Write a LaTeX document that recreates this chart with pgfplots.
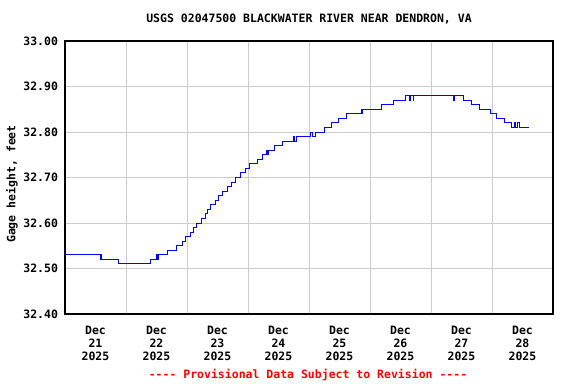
\documentclass[border=0pt]{standalone}
\usepackage{pgfplots}
\pgfplotsset{compat=1.18}
\usepackage{fontspec}
\setmainfont{DejaVu Sans Mono}[Ligatures=NoCommon]
\setmonofont{DejaVu Sans Mono}
\definecolor{gridgray}{HTML}{CCCCCC}
\begin{document}
\begin{tikzpicture}
\fontsize{11.5bp}{13bp}\selectfont\bfseries
\path[use as bounding box] (0,0) rectangle (576bp,384bp);
\begin{axis}[
  at={(65bp,70bp)}, anchor=south west,
  scale only axis, width=488bp, height=273bp,
  xmin=0, xmax=8, ymin=32.4, ymax=33.0,
  ytick={32.4,32.5,...,33.0},
  xtick={0.5,1.5,...,7.5},
  xticklabels={Dec\\21\\2025,Dec\\22\\2025,Dec\\23\\2025,Dec\\24\\2025,Dec\\25\\2025,Dec\\26\\2025,Dec\\27\\2025,Dec\\28\\2025},
  minor xtick={1,2,...,7},
  xminorgrids, ymajorgrids, xmajorgrids=false,
  grid style={gridgray, line width=0.9bp},
  minor grid style={gridgray, line width=0.9bp},
  major tick length=0pt, minor tick length=0pt,
  axis line style={black, line width=1.5bp},
  /pgf/number format/assume math mode=true,
  yticklabel={\pgfmathprintnumber[fixed,fixed zerofill,precision=2]{\tick}},
  ticklabel style={font=\fontsize{11.5bp}{13bp}\selectfont\bfseries},
  xticklabel style={align=center, yshift=-8bp},
  yticklabel style={xshift=-3bp},
]
\addplot[const plot, blue, line width=1bp] coordinates {
(0,32.53) (0.58,32.52) (0.59,32.53) (0.60,32.52) (0.87,32.51)
(1.40,32.52) (1.50,32.53) (1.52,32.52) (1.53,32.53)
(1.68,32.54) (1.83,32.55) (1.92,32.56) (1.98,32.57) (2.05,32.58)
(2.11,32.59) (2.16,32.60) (2.23,32.61) (2.31,32.62) (2.34,32.63)
(2.38,32.64) (2.46,32.65) (2.51,32.66) (2.59,32.67) (2.66,32.68)
(2.73,32.69) (2.80,32.70) (2.88,32.71) (2.96,32.72) (3.03,32.73)
(3.15,32.74) (3.23,32.75) (3.31,32.76) (3.32,32.75) (3.33,32.76)
(3.43,32.77) (3.57,32.78) (3.75,32.79) (3.77,32.78) (3.80,32.79)
(4.03,32.80) (4.05,32.79) (4.10,32.80)
(4.25,32.81) (4.37,32.82) (4.48,32.83) (4.62,32.84)
(4.86,32.85) (4.87,32.84) (4.88,32.85)
(5.19,32.86) (5.39,32.87) (5.59,32.88) (5.65,32.87) (5.67,32.88)
(5.71,32.87) (5.72,32.88)
(6.37,32.87) (6.38,32.88)
(6.54,32.87) (6.67,32.86) (6.79,32.85) (6.98,32.84) (7.07,32.83)
(7.21,32.82) (7.32,32.81) (7.37,32.82) (7.38,32.81)
(7.41,32.82) (7.45,32.81) (7.60,32.81)
};
\end{axis}
\node at (309bp,365bp) {USGS 02047500 BLACKWATER RIVER NEAR DENDRON, VA};
\node[rotate=90] at (12bp,200bp) {Gage height, feet};
\node[red] at (308bp,9bp) {{-}{-}{-}{-} Provisional Data Subject to Revision {-}{-}{-}{-}};
\end{tikzpicture}
\end{document}
